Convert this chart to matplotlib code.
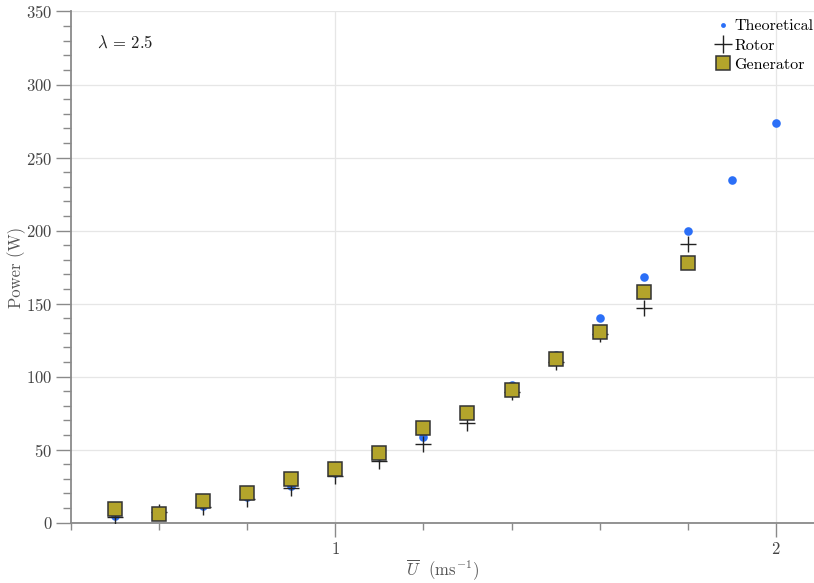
import matplotlib
matplotlib.use("Agg")
import matplotlib.pyplot as plt
from matplotlib.ticker import MultipleLocator, FixedLocator

plt.rcParams['font.family'] = 'serif'
plt.rcParams['font.serif'] = ['cmr10']
plt.rcParams['mathtext.fontset'] = 'cm'
plt.rcParams['axes.unicode_minus'] = False
plt.rcParams['axes.formatter.use_mathtext'] = True

# Data
u_theory = [0.5, 0.6, 0.7, 0.8, 0.9, 1.0, 1.1, 1.2, 1.3, 1.4, 1.5, 1.6, 1.7, 1.8, 1.9, 2.0]
p_theory = [4.3, 7.4, 11.7, 17.5, 24.9, 34.2, 45.5, 59.0, 75.1, 94.0, 115.0, 140.0, 168.5, 199.5, 234.7, 274.0]

u_rotor = [0.5, 0.6, 0.7, 0.8, 0.9, 1.0, 1.1, 1.2, 1.3, 1.4, 1.5, 1.6, 1.7, 1.8]
p_rotor = [4.0, 7.0, 11.0, 16.4, 23.5, 32.0, 42.5, 54.0, 68.0, 89.3, 110.0, 129.5, 147.0, 190.7]

u_gen = [0.5, 0.6, 0.7, 0.8, 0.9, 1.0, 1.1, 1.2, 1.3, 1.4, 1.5, 1.6, 1.7, 1.8]
p_gen = [9.6, 6.0, 14.6, 20.3, 29.7, 36.5, 47.7, 65.0, 75.4, 90.9, 112.0, 130.4, 157.8, 178.0]

x_major = [1, 2]
x_minor = [0.4, 0.6, 0.8, 1.2, 1.4, 1.6, 1.8]

fig = plt.figure(figsize=(8.14, 5.83), dpi=100)
ax = fig.add_axes([71/814, 60.3/583, 1 - 71/814, (522.7 - 11.5)/583])

blue = '#2b6ff7'
olive = '#b3a42b'

ax.plot(u_theory, p_theory, 'o', color=blue, markersize=6.2, markeredgewidth=0, zorder=3)
ax.plot(u_rotor, p_rotor, '+', color='#222222', markersize=11.5, markeredgewidth=1.0, zorder=4)
ax.plot(u_gen, p_gen, 's', color=olive, markersize=9.5, markeredgecolor='#333333', markeredgewidth=1.1, zorder=5)

# legend proxies
h1, = ax.plot([], [], 'o', color=blue, markersize=3.5, markeredgewidth=0)
h2, = ax.plot([], [], '+', color='#222222', markersize=13, markeredgewidth=1.0)
h3, = ax.plot([], [], 's', color=olive, markersize=9.5, markeredgecolor='#333333', markeredgewidth=1.1)
leg = ax.legend([h1, h2, h3], ['Theoretical', 'Rotor', 'Generator'], loc='upper right',
                frameon=False, fontsize=11.5, handlelength=0.9, handletextpad=0.25,
                labelspacing=0.32, borderaxespad=0.0, borderpad=0.0,
                bbox_to_anchor=(0.999, 0.985))

ax.set_xlim(0.4, 2.0866)
ax.set_ylim(0, 350)

ax.xaxis.set_major_locator(FixedLocator(x_major))
ax.xaxis.set_minor_locator(FixedLocator(x_minor))
ax.yaxis.set_major_locator(MultipleLocator(50))
ax.yaxis.set_minor_locator(MultipleLocator(10))

ax.grid(True, which='major', color='#e6e6e6', linewidth=0.9, zorder=0)
ax.set_axisbelow(True)

for s in ['top', 'right']:
    ax.spines[s].set_visible(False)
for s in ['left', 'bottom']:
    ax.spines[s].set_color('#8a8a8a')
    ax.spines[s].set_linewidth(1.3)

ax.tick_params(axis='both', which='major', direction='out', color='#8a8a8a', labelcolor='#444444',
               labelsize=12, width=1.0)
ax.tick_params(axis='y', which='major', length=10.5, pad=3)
ax.tick_params(axis='y', which='minor', length=6, color='#8a8a8a', width=1.0)
ax.tick_params(axis='x', which='major', length=10, pad=3)
ax.tick_params(axis='x', which='minor', length=5, color='#8a8a8a', width=1.0)

ax.set_ylabel('Power (W)', fontsize=12, color='#555555', labelpad=0)
ax.set_xlabel(r'$\overline{U}$  (ms$^{-1}$)', fontsize=12, color='#555555', labelpad=0.5)

ax.text(0.46, 329, r'$\lambda$ = 2.5', fontsize=12, va='center', ha='left', color='#222222')

fig.savefig('out.png', dpi=100)
